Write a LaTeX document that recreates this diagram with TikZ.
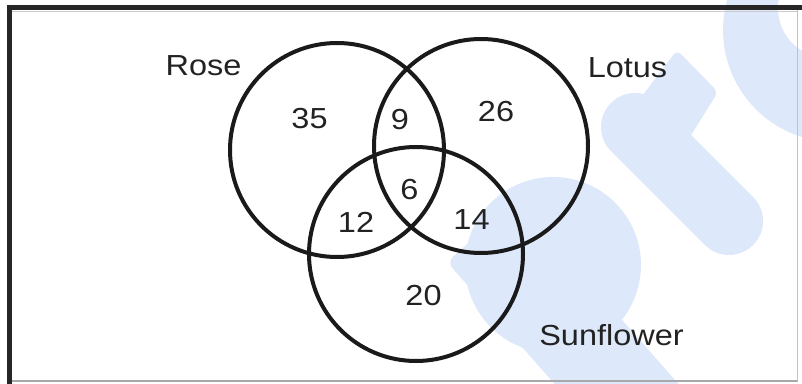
\documentclass[tikz,border=0pt]{standalone}
\usepackage{fontspec}
\setmainfont{Liberation Sans}[FakeStretch=1.12]
\usepackage{xcolor}
\definecolor{ink}{HTML}{222222}
\definecolor{ring}{HTML}{1A1A1A}
\definecolor{framedark}{HTML}{262626}
\definecolor{framelight}{HTML}{A8A8A8}
\definecolor{wmblue}{HTML}{DDE8FA}

\begin{document}
\begin{tikzpicture}[x=0.5pt, y=-0.5pt, font=\fontsize{14.5}{17}\selectfont,
    set/.style={draw=ring, line width=2pt, circle, minimum size=107pt, inner sep=0pt},
    lbl/.style={text=ink, inner sep=0pt}]
        \useasboundingbox (0,0) rectangle (802,384);
        % watermark letters behind the diagram
        \begin{scope}
          \clip (0,0) rectangle (802,384);
          \fill[wmblue] (835,30) circle [radius=56pt];
          \fill[white] (828,8) circle [radius=25pt];
          \draw[wmblue, line width=34pt, line cap=round] (635,127) -- (729,221);
          \fill[wmblue, rounded corners=3pt] (630,112) -- (677,50) -- (718,92) -- (688,140) -- cycle;
          \fill[wmblue] (553,265) circle [radius=44pt];
          \fill[wmblue, rounded corners=4pt] (447,262) -- (516.7,200.5) -- (688.7,395.5) -- (619,457) -- cycle;
        \end{scope}
        % frame
        \fill[framedark] (7,5) rectangle (802,10.5);
        \fill[framedark] (7,5) rectangle (12,384);
        \draw[framelight!60, line width=0.5pt] (12,11.5) -- (797,11.5);
        \draw[framelight, line width=1pt] (12,380.5) -- (798,380.5);
        \draw[framelight!70, line width=0.75pt] (797.5,10.5) -- (797.5,381);
        % sets
        \node[set] (rose) at (337,150) {};
        \node[set] (lotus) at (481,146) {};
        \node[set] (sunflower) at (416,254) {};
        \node[lbl] (rosename) at (203.5,66) {Rose};
        \node[lbl] (lotusname) at (627.5,67.5) {Lotus};
        \node[lbl] (sunname) at (611.5,335.5) {Sunflower};
        % counts
        \node[lbl] (onlyrose) at (309.5,119) {35};
        \node[lbl] (roselotus) at (400,120) {9};
        \node[lbl] (onlylotus) at (496,111.5) {26};
        \node[lbl] (allthree) at (409.5,190) {6};
        \node[lbl] (rosesun) at (356,222.5) {12};
        \node[lbl] (lotussun) at (471.5,220) {14};
        \node[lbl] (onlysun) at (423.5,295.5) {20};
      \end{tikzpicture}
\end{document}
